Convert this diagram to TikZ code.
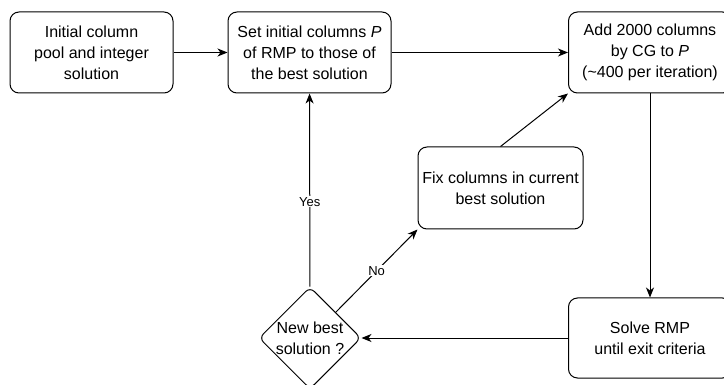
\documentclass[tikz,border=0pt]{standalone}
\usepackage{fontspec}
\setmainfont{Liberation Sans}
\usetikzlibrary{arrows.meta,shapes.geometric}

\tikzset{
  etape/.style={draw, rounded corners=9pt, line width=1pt, align=center,
    minimum width=163pt, minimum height=81pt, inner sep=2pt,
    font=\fontsize{16}{21}\selectfont},
  decision/.style={draw, diamond, rounded corners=6pt, line width=1pt, align=center,
    minimum width=102pt, minimum height=102pt, inner sep=-6pt,
    font=\fontsize{16}{21}\selectfont},
  fleche/.style={line width=1pt, -{Stealth[length=10pt,width=8pt,inset=3pt]}},
  etiquette/.style={fill=white, inner sep=1pt, font=\fontsize{13}{15}\selectfont}
}

\begin{document}
\begin{tikzpicture}[x=1pt, y=-1pt]

  % Cadre de la figure (marges du dessin)
  \useasboundingbox (0,0) rectangle (724,385);

  % Les blocs du haut
  \node[etape] (init) at (91.5,52.5) {Initial column\\pool and integer\\solution};
  \node[etape] (setP) at (309.5,52.5) {Set initial columns \textit{P}\\of RMP to those of\\the best solution};
  \node[etape] (addcg) at (650,52.5) {Add 2000 columns\\by CG to \textit{P}\\(\textasciitilde400 per iteration)};

  % Bloc du milieu
  \node[etape, minimum width=165pt, minimum height=82pt] (fix) at (500.5,188) {Fix columns in current\\best solution};

  % Les blocs du bas : test et resolution
  \node[decision] (newbest) at (310,338) {New best\\solution ?};
  \node[etape, minimum height=80pt] (solve) at (650,338) {Solve RMP\\until exit criteria};

  % Fleches principales
  \draw[fleche] (init) -- (setP);
  \draw[fleche] (setP) -- (addcg);
  \draw[fleche] (addcg) -- (solve);
  \draw[fleche] (solve) -- (newbest);

  % Sorties du test
  \draw[fleche] (newbest) -- node[etiquette, pos=0.44] {Yes} (setP);
  \draw[fleche] (newbest.north east) -- node[etiquette, pos=0.5] {No} (fix.south west);
  \draw[fleche] (fix.north) -- (addcg.south west);

\end{tikzpicture}
\end{document}
